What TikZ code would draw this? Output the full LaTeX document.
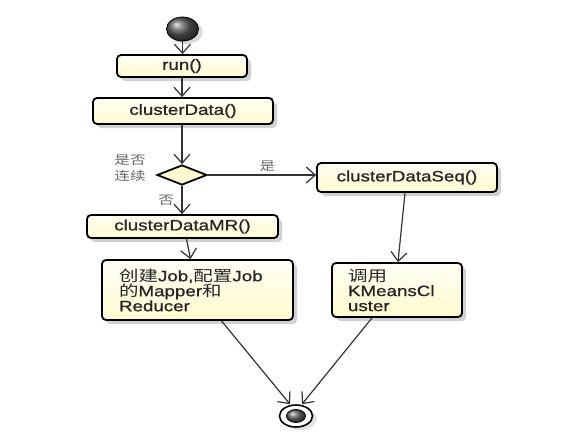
\documentclass[tikz,border=0pt]{standalone}
\usepackage{fontspec}
\setmainfont[FakeStretch=1.25,FakeBold=1]{Liberation Sans}
\newfontfamily\cjk[FakeStretch=1.3]{Noto Sans CJK SC}
\usetikzlibrary{arrows.meta,shapes.geometric,shadows}
\definecolor{creamtop}{RGB}{255,255,245}
\definecolor{creambot}{RGB}{255,250,205}
\begin{document}
\begin{tikzpicture}[x=1pt,y=-1pt,
  act/.style={draw=black, line width=1.8pt, rounded corners=4pt,
    top color=creamtop, bottom color=creambot,
    drop shadow={shadow xshift=4pt,shadow yshift=-4pt,fill=black!18,opacity=1},
    font=\fontsize{15}{17}\selectfont, text=black!85, inner sep=0pt},
  note/.style={act, align=left, font=\fontsize{15}{15}\selectfont},
  flow/.style={line width=1.2pt, draw=black!80, -{Straight Barb[length=9pt,width=16pt]}},
  lbl/.style={font=\cjk\fontsize{12}{16}\selectfont, text=black!60}]
\useasboundingbox (0,0) rectangle (571,445);
\fill[white] (0,0) rectangle (571,445);

\node[ellipse, minimum width=32pt, minimum height=24pt, shading=ball, ball color=black!65, draw=black, line width=0.8pt,
  drop shadow={shadow xshift=4pt,shadow yshift=-3pt,fill=black!15,opacity=1}] (start) at (182.5,29) {};
\node[act, minimum width=130pt, minimum height=22pt] (run) at (182,66) {run()};
\node[act, minimum width=180pt, minimum height=26pt] (cd) at (183,111) {clusterData()};
\node[diamond, draw=black, line width=1.8pt, fill=creambot, minimum width=50pt, minimum height=20pt, inner sep=0pt, aspect=2.5] (dec) at (182,175) {};
\node[act, minimum width=180pt, minimum height=29pt] (seq) at (407,177.5) {clusterDataSeq()};
\node[act, minimum width=191pt, minimum height=23pt] (mr) at (182.5,226.5) {clusterDataMR()};
\node[note, minimum width=191pt, minimum height=60pt, inner xsep=17pt, text width=157pt] (job) at (197.5,290)
  {{\cjk 创建}Job,{\cjk 配置}Job\\{\cjk 的}Mapper{\cjk 和}\\Reducer};
\node[note, minimum width=130pt, minimum height=54pt, inner xsep=16pt, text width=98pt] (km) at (397,290)
  {{\cjk 调用}\\KMeansCl\\uster};
\node[ellipse, draw=black, line width=1.6pt, fill=white, minimum width=33pt, minimum height=22pt,
  drop shadow={shadow xshift=4pt,shadow yshift=-3pt,fill=black!12,opacity=1}] (end) at (296,416) {};
\node[ellipse, minimum width=19pt, minimum height=13pt, shading=ball, ball color=black!60, draw=black, line width=0.8pt] (endin) at (end) {};

\node[lbl, align=center] (q) at (130,168) {是否\\连续};

\draw[flow] (start) -- (start |- run.north);
\draw[flow] (run.south) -- (run.south |- cd.north);
\draw[flow] (cd.south -| dec.north) -- (dec.north);
\draw[flow] (dec.east) -- node[lbl, above, pos=0.55] {是} (dec.east -| seq.west);
\draw[flow] (dec.south) -- node[lbl, left, pos=0.5, xshift=-4pt] {否} (dec.south |- mr.north);
\draw[flow] ([xshift=4pt]mr.south) -- ([xshift=-7pt]job.north);
\draw[flow] ([xshift=-2pt]seq.south) -- ([xshift=1pt]km.north);
\draw[flow] ([xshift=24pt]job.south) -- ([xshift=-6pt]end.north);
\draw[flow] ([xshift=-25pt]km.south) -- ([xshift=6pt]end.north);
\end{tikzpicture}
\end{document}
